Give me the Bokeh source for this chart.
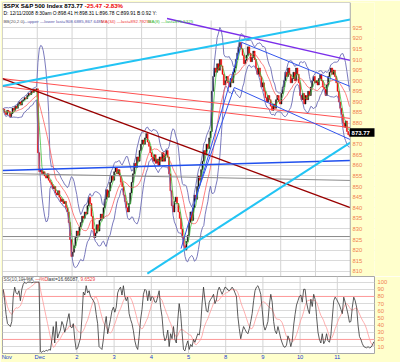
import numpy as np
import pandas as pd
from bokeh.plotting import figure
from bokeh.layouts import column
from bokeh.models import Range1d, FixedTicker
from bokeh.embed import file_html
from bokeh.resources import INLINE
from bokeh.core.properties import value

# ---------------- data (15-minute bars, 26 per session) ----------------
day_labels = ["Nov", "Dec", "2", "3", "4", "5", "8", "9", "10", "11"]
bars_per_day = 26
first_open = 886.9

close_nov28 = [886.5, 885.0, 884.0, 886.0, 885.5, 883.0, 884.5, 887.0, 886.0, 888.0, 887.0, 889.0, 890.0,
               888.5, 890.5, 891.0, 892.0, 891.5, 893.0, 894.0, 893.5, 895.0, 894.5, 896.0, 895.5, 896.2]
close_dec01 = [866.0, 857.0, 858.0, 856.0, 857.0, 855.0, 854.0, 856.0, 853.0, 852.0, 851.0, 849.0, 850.0,
               847.0, 846.0, 848.0, 845.0, 843.0, 844.0, 842.0, 843.0, 840.0, 838.0, 833.0, 825.0, 817.0]
close_dec02 = [819.0, 822.0, 826.0, 829.0, 827.0, 831.0, 833.0, 836.0, 835.0, 838.0, 837.0, 841.0, 845.0,
               842.0, 836.0, 830.0, 826.0, 828.0, 832.0, 829.0, 834.0, 837.0, 835.0, 840.0, 844.0, 848.5]
close_dec03 = [845.0, 848.0, 852.0, 855.0, 853.0, 857.0, 859.0, 856.0, 858.0, 855.0, 852.0, 850.0, 846.0,
               843.0, 840.0, 838.0, 842.0, 847.0, 852.0, 856.0, 861.0, 859.0, 864.0, 862.0, 867.0, 870.0]
close_dec04 = [872.0, 870.0, 873.0, 875.0, 871.0, 869.0, 866.0, 864.0, 862.0, 865.0, 861.0, 863.0, 860.0,
               864.0, 862.0, 866.0, 862.0, 865.0, 867.0, 864.0, 856.0, 848.0, 841.0, 838.0, 843.0, 845.0]
close_dec05 = [842.0, 838.0, 835.0, 830.0, 826.0, 822.0, 820.0, 824.0, 827.0, 833.0, 838.0, 834.0, 840.0,
               846.0, 844.0, 850.0, 855.0, 853.0, 858.0, 862.0, 867.0, 865.0, 870.0, 868.0, 873.0, 876.0]
close_dec08 = [895.0, 902.0, 906.0, 904.0, 908.0, 905.0, 910.0, 907.0, 903.0, 898.0, 900.0, 902.0, 899.0,
               897.0, 901.0, 899.0, 904.0, 906.0, 910.0, 913.0, 916.0, 918.0, 915.0, 912.0, 908.0, 909.7]
close_dec09 = [912.0, 916.0, 913.0, 909.0, 911.0, 914.0, 910.0, 906.0, 903.0, 906.0, 902.0, 897.0, 899.0,
               895.0, 892.0, 890.0, 893.0, 891.0, 888.0, 886.0, 889.0, 887.0, 891.0, 893.0, 890.0, 889.0]
close_dec10 = [894.0, 897.0, 900.0, 904.0, 902.0, 906.0, 903.0, 899.0, 901.0, 904.0, 900.0, 906.0, 903.0,
               899.0, 893.0, 891.0, 894.0, 889.0, 893.0, 891.0, 895.0, 893.0, 897.0, 900.0, 902.0, 899.0]
close_dec11 = [900.0, 898.0, 901.0, 903.0, 900.0, 897.0, 896.0, 893.0, 898.0, 902.0, 904.0, 906.0, 903.0,
               905.0, 902.0, 899.0, 895.0, 890.0, 887.0, 884.0, 880.0, 878.0, 881.0, 876.0, 874.5, 873.77]

k_nov28 = [90, 75, 55, 42, 40, 38, 45, 80, 93, 85, 83, 88, 74, 90, 97, 100, 98, 100, 100, 100, 99, 100, 100, 100, 100, 100]
k_dec01 = [3, 2, 4, 3, 5, 4, 6, 5, 20, 38, 15, 45, 22, 28, 33, 45, 40, 30, 38, 48, 56, 38, 36, 42, 20, 6]
k_dec02 = [8, 15, 22, 50, 86, 82, 95, 85, 88, 80, 77, 74, 70, 55, 42, 10, 8, 6, 20, 40, 52, 28, 38, 48, 60, 65]
k_dec03 = [58, 65, 85, 90, 93, 82, 95, 80, 74, 79, 56, 48, 42, 32, 18, 10, 6, 24, 47, 62, 83, 90, 88, 74, 88, 74]
k_dec04 = [80, 78, 72, 72, 80, 88, 65, 52, 28, 18, 22, 33, 10, 28, 21, 38, 20, 15, 47, 70, 56, 30, 6, 4, 12, 18]
k_dec05 = [6, 13, 10, 20, 16, 22, 28, 26, 40, 70, 93, 75, 60, 58, 72, 76, 79, 83, 70, 75, 88, 93, 88, 83, 88, 93]
k_dec08 = [92, 89, 88, 90, 93, 90, 85, 80, 52, 35, 21, 30, 38, 34, 30, 28, 35, 45, 56, 74, 88, 93, 95, 90, 83, 62]
k_dec09 = [40, 33, 38, 45, 68, 83, 72, 45, 32, 28, 38, 30, 21, 15, 10, 9, 12, 25, 20, 10, 18, 40, 55, 68, 74, 80]
k_dec10 = [82, 72, 90, 90, 72, 62, 56, 76, 66, 83, 76, 52, 30, 20, 15, 28, 14, 18, 28, 18, 16, 26, 50, 74, 79, 76]
k_dec11 = [72, 68, 62, 56, 79, 72, 64, 55, 44, 45, 65, 79, 74, 65, 40, 24, 20, 14, 10, 9, 8, 10, 8, 9, 12, 16.7]

price_ticks = [810, 815, 820, 825, 830, 835, 840, 845, 850, 855, 860, 865, 870, 875,
               880, 885, 890, 895, 900, 905, 910, 915, 920, 925]
osc_ticks = [10, 20, 30, 40, 50, 60, 70, 80, 90, 100]
osc_bands = [20, 80]
last_price = 873.77

# hand-drawn trend lines: (bar0, price0, bar1, price1)
trend_cyan_upper = (-0.5, 897.5, 259.5, 928.9)
trend_cyan_lower = (107.8, 808.9, 259.5, 870.8)
trend_purple = (122.5, 929.4, 259.5, 909.6)
trend_red_a = (-0.5, 901.0, 259.5, 882.2)
trend_red_b = (-0.5, 897.3, 259.5, 877.9)
trend_maroon = (-0.5, 901.0, 259.5, 840.1)
trend_blue_flat = (-0.5, 857.6, 259.5, 862.3)
trend_gray_a = (-0.5, 856.2, 259.5, 852.9)
trend_gray_b = (-0.5, 826.4, 259.5, 826.4)
trend_chan_upper = (178.4, 918.1, 259.5, 897.3)
trend_chan_lower = (172.8, 896.8, 259.5, 872.2)
trend_steep_a = (133.0, 820.7, 178.4, 918.1)
trend_steep_b = (144.0, 845.0, 172.8, 896.8)

# ---------------- derived ----------------
closes = np.array(close_nov28 + close_dec01 + close_dec02 + close_dec03 + close_dec04 +
                  close_dec05 + close_dec08 + close_dec09 + close_dec10 + close_dec11)
kvals = np.array(k_nov28 + k_dec01 + k_dec02 + k_dec03 + k_dec04 +
                 k_dec05 + k_dec08 + k_dec09 + k_dec10 + k_dec11, dtype=float)
n = len(closes)
xs = np.arange(n)
opens = np.concatenate([[first_open], closes[:-1]])
up = closes >= opens
cs = pd.Series(closes)
ma_long = cs.rolling(14, min_periods=1).mean().to_numpy()
ma_short = cs.rolling(4, min_periods=1).mean().to_numpy()
bb_mid = cs.rolling(10, min_periods=1).mean()
bb_sd = cs.rolling(10, min_periods=1).std(ddof=0).fillna(0)
bb_up = (bb_mid + 2 * bb_sd).to_numpy()
bb_lo = (bb_mid - 2 * bb_sd).to_numpy()
dvals = pd.Series(kvals).rolling(10, min_periods=1).mean().to_numpy()

bounds = [bars_per_day * i - 0.5 for i in range(1, len(day_labels))]
label_ticks = [2.5] + bounds

# ---------------- layout helpers (reference pixel -> data) ----------------
BG = "#FFFFCC"
AX = "#F08050"
FRAME = "#A8A8A8"
FONT = value("Liberation Sans")


def bx(xref):
    return (xref - 2) / 1.431 - 0.5


def py(yref):
    return 925 - (yref - 27.3) / 2.117


def oy(yref):
    return 10 + (347 - yref) / 0.7256


X0, X1 = -0.5, 259.5
XE = bx(400)
YB, YT = py(276), py(2)

p = figure(width=400, height=276, x_range=Range1d(X0, XE), y_range=Range1d(YB, YT),
           output_backend="svg", toolbar_location=None, x_axis_location=None, y_axis_location=None,
           min_border_left=2, min_border_right=0, min_border_top=2, min_border_bottom=0,
           background_fill_color="white", border_fill_color=BG, outline_line_color=None)
p.ygrid.ticker = FixedTicker(ticks=price_ticks)
p.ygrid.grid_line_color = "#DADADA"
p.xgrid.visible = False

p.segment(x0=bounds, y0=py(276), x1=bounds, y1=py(20), line_color="#D4D4D4", line_width=1)

# candles (body from open to close)
p.vbar(x=xs[up], bottom=opens[up], top=closes[up], width=0.75, fill_color="#111111", line_color="#111111", line_width=0.5)
p.vbar(x=xs[~up], bottom=closes[~up], top=opens[~up], width=0.75, fill_color="#EE0000", line_color="#EE0000", line_width=0.5)

# indicators
p.line(xs, bb_up, line_color="#6B6BB5", line_width=0.9)
p.line(xs, bb_lo, line_color="#6B6BB5", line_width=0.9)
p.line(xs, ma_long, line_color="#FF6060", line_width=0.8)
p.line(xs, ma_short, line_color="#40C040", line_width=0.8)


def tl(t, color, w):
    p.line([t[0], t[2]], [t[1], t[3]], line_color=color, line_width=w)


tl(trend_red_a, "#FF5050", 1)
tl(trend_red_b, "#FF5050", 1)
tl(trend_gray_a, "#8A8A8A", 1)
tl(trend_gray_b, "#8A8A8A", 1)
tl(trend_maroon, "#990000", 1.4)
tl(trend_blue_flat, "#2050EE", 1.5)
tl(trend_chan_upper, "#3355EE", 1)
tl(trend_chan_lower, "#3355EE", 1)
tl(trend_steep_a, "#3355EE", 1)
tl(trend_steep_b, "#3355EE", 1)
tl(trend_purple, "#7A2EEA", 1.4)
tl(trend_cyan_upper, "#22C4F4", 2)
tl(trend_cyan_lower, "#22C4F4", 2)

# right-hand price scale strip (outside the chart box)
p.quad(left=[X1], right=[XE + 1], bottom=[YB - 1], top=[YT + 1], fill_color=BG, line_color=None)
p.quad(left=[X0], right=[X1], bottom=[YB], top=[YT], fill_color=None, line_color=FRAME, line_width=1)
tick_labels = [str(t) for t in price_ticks if t != 875]
tick_vals = [t for t in price_ticks if t != 875]
p.text(x=[bx(376.5)] * len(tick_vals), y=tick_vals, text=tick_labels, text_color=AX, text_font=FONT,
       text_font_size="5.8px", text_baseline="middle", text_align="left")
p.quad(left=[bx(373.5)], right=[XE + 1], bottom=[py(136.2)], top=[py(127.8)], fill_color="black", line_color=None)
p.text(x=[bx(375.5)], y=[py(132)], text=["%.2f" % last_price], text_color="white", text_font=FONT,
       text_font_size="6px", text_font_style="bold", text_baseline="middle", text_align="left")

# header texts
p.text(x=[bx(3)], y=[py(4.5)], text=["$SPX S&P 500 Index 873.77"], text_color="#000000",
       text_font=FONT, text_font_size="6.1px", text_font_style="bold", text_baseline="middle")
p.text(x=[bx(90)], y=[py(4.5)], text=["-25.47  -2.83%"], text_color="#EE0000",
       text_font=FONT, text_font_size="6.1px", text_font_style="bold", text_baseline="middle")
p.text(x=[bx(3)], y=[py(12.5)], text=["D: 12/11/2008   8:30am  O:898.41  H:898.31  L:896.78  C:899.91  B:0.92  Y:"],
       text_color="#000000", text_font=FONT, text_font_size="4.9px", text_baseline="middle")
hdr_x = [bx(3), bx(24), bx(107.5), bx(157.5)]
hdr_t = ["BB(20,2.0)", "\u2014upper \u2014lower  last=908.6885,867.6485", "MA(34) \u2014last=892.79255",
         "MA(8) \u2014last=875.5325"]
hdr_c = ["#555555", "#5555AA", "#EE3333", "#33BB33"]
p.text(x=hdr_x, y=[py(20.5)] * 4, text=hdr_t, text_color=hdr_c, text_font=FONT,
       text_font_size="4.4px", text_baseline="middle")

# ---------------- oscillator ----------------
q = figure(width=400, height=86, x_range=Range1d(X0, X1), y_range=Range1d(oy(354), oy(276)),
           output_backend="svg", toolbar_location=None, y_axis_location="right",
           min_border_left=2, min_border_right=26, min_border_top=0, min_border_bottom=8,
           background_fill_color="white", border_fill_color=BG, outline_line_color=FRAME)
q.yaxis.ticker = FixedTicker(ticks=osc_ticks)
q.yaxis.major_label_text_font_size = "5.8px"
q.yaxis.major_label_text_color = AX
q.yaxis.major_label_text_font = "Liberation Sans"
q.yaxis.axis_line_color = None
q.yaxis.major_tick_line_color = None
q.yaxis.minor_tick_line_color = None
q.yaxis.major_tick_out = 0
q.yaxis.major_tick_in = 0
q.yaxis.major_label_standoff = 3
q.ygrid.ticker = FixedTicker(ticks=osc_ticks)
q.ygrid.grid_line_color = "#DADADA"
q.xgrid.visible = False
q.xaxis.ticker = FixedTicker(ticks=label_ticks)
q.xaxis.major_label_overrides = {t: lab for t, lab in zip(label_ticks, day_labels)}
q.xaxis.major_label_text_font_size = "5.8px"
q.xaxis.major_label_text_color = "#2040D0"
q.xaxis.major_label_text_font = "Liberation Sans"
q.xaxis.axis_line_color = None
q.xaxis.major_tick_line_color = None
q.xaxis.minor_tick_line_color = None
q.xaxis.major_tick_out = 0
q.xaxis.major_tick_in = 0
q.xaxis.major_label_standoff = 0

q.segment(x0=bounds, y0=oy(354), x1=bounds, y1=oy(276), line_color="#D4D4D4", line_width=1)
q.segment(x0=[X0] * 2, y0=osc_bands, x1=[X1] * 2, y1=osc_bands, line_color="#FF9A9A", line_width=1)
q.line(xs, dvals, line_color="#FF9A9A", line_width=0.8)
q.line(xs, kvals, line_color="#333333", line_width=0.8)

osc_x = [bx(3), bx(21), bx(35), bx(47), bx(80)]
osc_t = ["SS(10,10)", "\u2014%K", "\u2014%D", "last=16.66087,", "9.6529"]
osc_c = ["#555555", "#222222", "#EE4444", "#333333", "#EE4444"]
q.text(x=osc_x, y=[oy(278.8)] * 5, text=osc_t, text_color=osc_c, text_font=FONT,
       text_font_size="4.8px", text_baseline="middle")

layout = column(p, q, spacing=0)
open("out.html", "w").write(file_html(layout, INLINE))
